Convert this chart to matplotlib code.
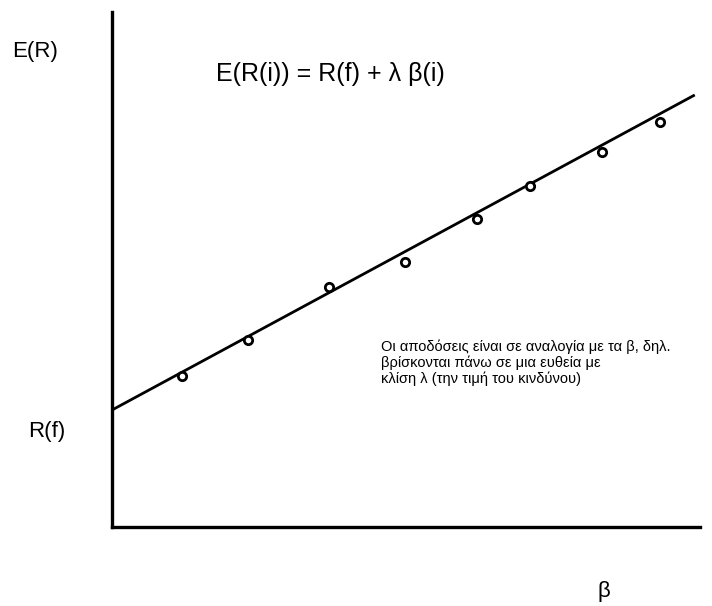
import numpy as np
import matplotlib
matplotlib.use("Agg")
import matplotlib.pyplot as plt

# dữ liệu: beta của các chứng khoán và lợi nhuận kỳ vọng
beta = [0.24, 0.47, 0.75, 1.01, 1.26, 1.44, 1.69, 1.89]
er = [5.16, 6.39, 8.21, 9.06, 10.53, 11.66, 12.82, 13.85]
rf = 4.0
lam = 5.36
beta_line = [0.0, 2.01]

plt.rcParams['font.family'] = ['Liberation Sans', 'DejaVu Sans']

fig = plt.figure(figsize=(7.12, 6.06), dpi=100)
ax = fig.add_axes([112/712, 79/606, 588/712, 515/606])

# đường SML
yl = [rf + lam*b for b in beta_line]
ax.plot(beta_line, yl, color='black', lw=2.0, solid_capstyle='butt')
ax.plot(beta, er, 'o', ms=6, mfc='white', mec='black', mew=2.0)

ax.set_xlim(0, 2.028)
ax.set_ylim(0, 17.61)
for s in ['top', 'right']:
    ax.spines[s].set_visible(False)
for s in ['left', 'bottom']:
    ax.spines[s].set_linewidth(2.4)
ax.set_xticks([])
ax.set_yticks([])

fig.text(35/712, 1-52/606, 'E(R)', fontsize=16, ha='center', va='center')
fig.text(47/712, 1-432/606, 'R(f)', fontsize=16, ha='center', va='center')
fig.text(604/712, 1-592/606, 'β', fontsize=16, ha='center', va='center')
fig.text(216/712, 1-74/606, 'E(R(i)) = R(f) + λ β(i)', fontsize=18, ha='left', va='center')
fig.text(381/712, 1-339/606,
         'Οι αποδόσεις είναι σε αναλογία με τα β, δηλ.\n'
         'βρίσκονται πάνω σε μια ευθεία με\n'
         'κλίση λ (την τιμή του κινδύνου)',
         fontsize=10.5, ha='left', va='top', linespacing=1.14)

plt.savefig('out.png', dpi=100)
